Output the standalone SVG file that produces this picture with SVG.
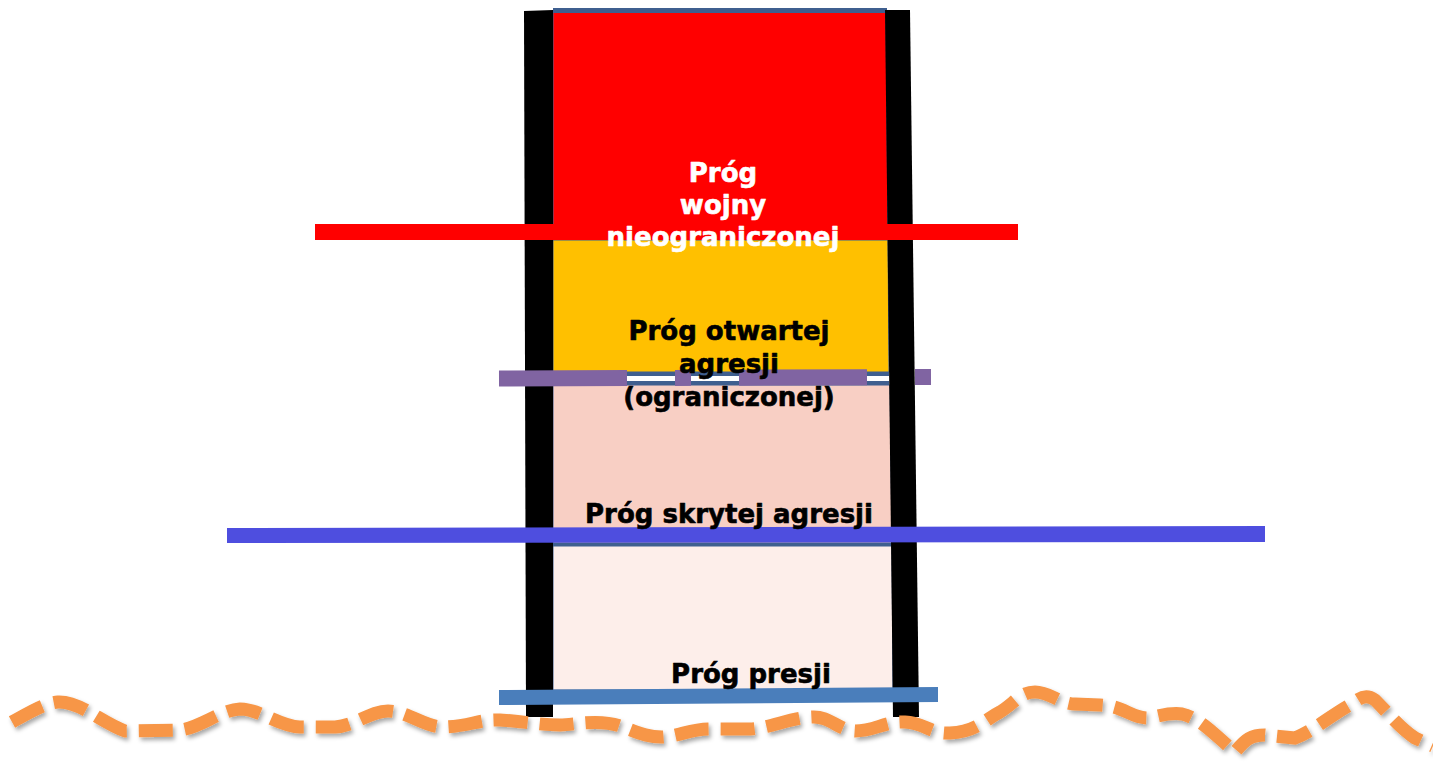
<svg xmlns="http://www.w3.org/2000/svg" width="1433" height="766" viewBox="0 0 1433 766">
  <defs>
    <style>
      .lbl { font-family: "DejaVu Sans", "Liberation Sans", sans-serif; font-weight: bold; font-size: 26px; text-anchor: middle; stroke-width: 0.6px; stroke-linejoin: round; }
      .wht { fill: #FFFFFF; stroke: #FFFFFF; }
      .blk { fill: #000000; stroke: #000000; }
      .edge { stroke: #3F5F8F; stroke-width: 1; }
    </style>
    <filter id="shadow" x="-5%" y="-50%" width="110%" height="200%">
      <feDropShadow dx="2" dy="3" stdDeviation="2" flood-color="#000000" flood-opacity="0.35"/>
    </filter>
  </defs>
  <rect width="1433" height="766" fill="#FFFFFF"/>

  <g id="fills">
    <polygon points="553,11 886,11 888,240 553,240" fill="#FF0000" class="edge"/>
    <polygon points="553,240 888,240 889,372 553,372" fill="#FFC000" class="edge"/>
    <polygon points="553,385 890,385 892,543 553,543" fill="#F8CFC4" class="edge"/>
    <polygon points="553,546 892,546 893,690 553,690" fill="#FDEEEA" class="edge"/>
    <rect x="553" y="8" width="334" height="5" fill="#3F5F8F"/>
    <rect x="553" y="372" width="336" height="4" fill="#3F5F8F"/>
    <rect x="553" y="376" width="336" height="5" fill="#FFFFFF"/>
    <rect x="553" y="381" width="336" height="4" fill="#3F5F8F"/>
    <rect x="553" y="543" width="339" height="3" fill="#3F5F8F"/>
  </g>

  <g id="rails">
    <polygon points="524,11 553,10 553,717 526,717" fill="#000000"/>
    <polygon points="885,10 910,10 919,717 893,717" fill="#000000"/>
  </g>

  <g id="lines">
    <rect x="315" y="224" width="703" height="16" fill="#FF0000"/>
    <line x1="499" y1="378.5" x2="932" y2="377" stroke="#8064A2" stroke-width="16" stroke-dasharray="128 48 16 48"/>
    <polygon points="227,528 1265,526 1265,542 227,543" fill="#4E4EDF"/>
    <polygon points="499,690 938,687 938,702 499,705" fill="#4A7EBB"/>
  </g>

  <g id="ground" filter="url(#shadow)">
    <path d="M12,722 C30,712 45,703 58,702 C80,701 100,722 125,731 L180,730 C200,728 220,710 240,709 C260,709 280,727 300,727 L335,727 C355,726 370,711 388,711 C408,711 425,728 445,727 C470,726 480,719 500,720 C520,721 540,725 560,725 C580,724 600,719 620,726 C635,731 645,737 662,737 C680,736 690,729 710,729 L750,729 C770,728 790,718 812,717 C830,716 838,730 855,731 C875,731 885,721 905,722 C925,723 930,734 950,733 C975,732 985,720 1000,712 C1015,703 1020,692 1035,692 C1050,692 1060,704 1075,704 L1100,705 C1125,706 1130,718 1148,718 C1160,716 1170,712 1182,714 C1200,718 1215,735 1235,752 C1245,740 1250,735 1265,735 L1295,738 C1315,730 1330,716 1350,705 C1360,698 1365,693 1375,700 C1390,715 1400,728 1415,738 L1433,746" fill="none" stroke="#F79646" stroke-width="13" stroke-dasharray="34 12"/>
  </g>

  <g id="node-wojny">
    <text class="lbl wht" x="723" y="182">Próg</text>
    <text class="lbl wht" x="723" y="214">wojny</text>
    <text class="lbl wht" x="723" y="246">nieograniczonej</text>
  </g>

  <g id="node-otwartej">
    <text class="lbl blk" x="729" y="340">Próg otwartej</text>
    <text class="lbl blk" x="729" y="373">agresji</text>
    <text class="lbl blk" x="729" y="406">(ograniczonej)</text>
  </g>

  <g id="node-skrytej">
    <text class="lbl blk" x="729" y="523">Próg skrytej agresji</text>
  </g>

  <g id="node-presji">
    <text class="lbl blk" x="751" y="683">Próg presji</text>
  </g>
</svg>
